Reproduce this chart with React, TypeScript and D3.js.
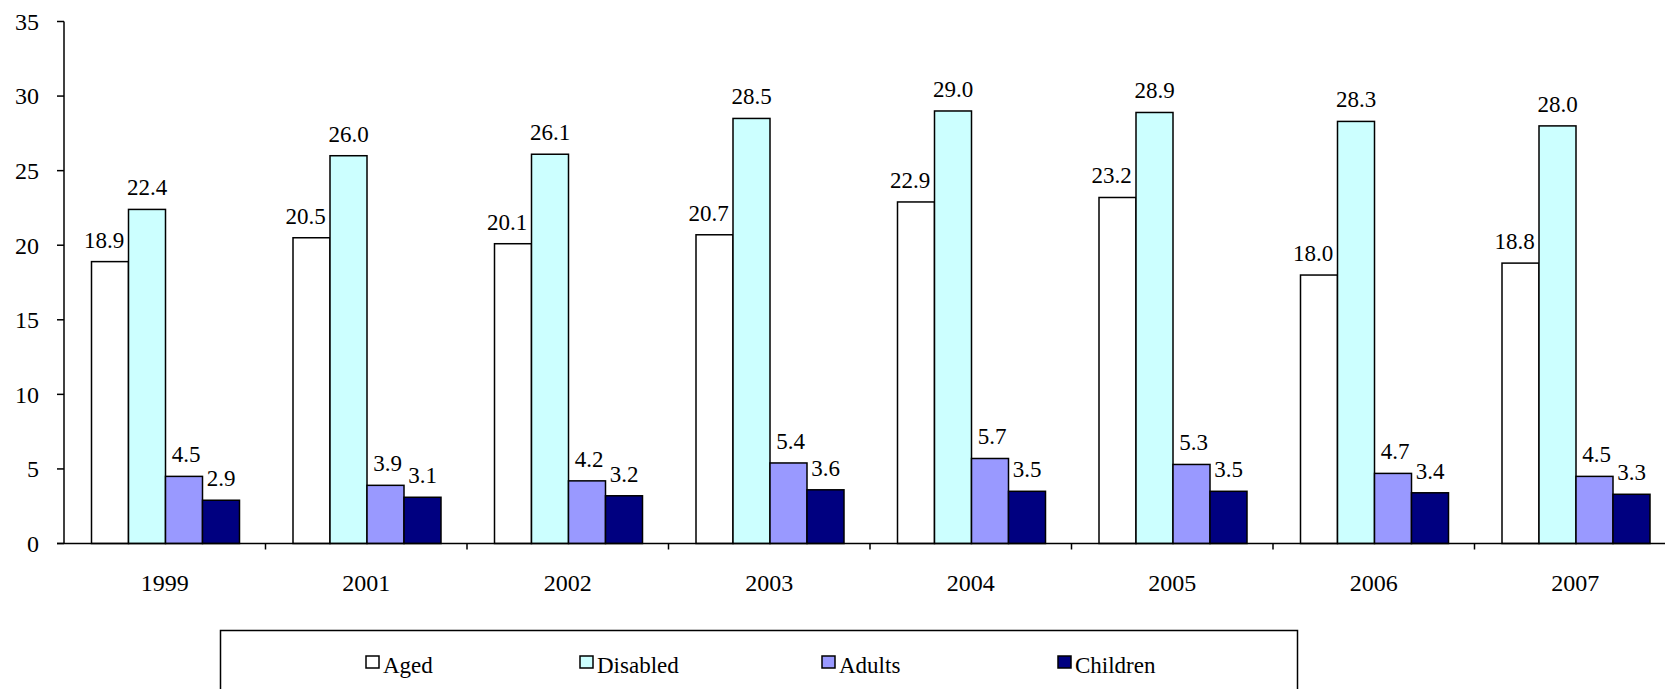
import React from "react";
import * as d3 from "d3";

const years = ["1999", "2001", "2002", "2003", "2004", "2005", "2006", "2007"];
const seriesNames = ["Aged", "Disabled", "Adults", "Children"];
const aged = [18.9, 20.5, 20.1, 20.7, 22.9, 23.2, 18.0, 18.8];
const disabled = [22.4, 26.0, 26.1, 28.5, 29.0, 28.9, 28.3, 28.0];
const adults = [4.5, 3.9, 4.2, 5.4, 5.7, 5.3, 4.7, 4.5];
const children = [2.9, 3.1, 3.2, 3.6, 3.5, 3.5, 3.4, 3.3];
const yTicks = [0, 5, 10, 15, 20, 25, 30, 35];

const seriesValues = [aged, disabled, adults, children];
const colors = ["#FFFFFF", "#CCFFFF", "#9999FF", "#000080"];
const labelDx = [-6, 0, 2, 0];
const legendX = [366, 580, 822, 1058];

const FONT = "Liberation Serif, Tinos, DejaVu Serif, serif";

export default function App() {
  const W = 1665;
  const H = 689;
  const axisX = 64;
  const baseY = 543.5;
  const topY = 21.5;
  const bandW = 201.5;

  const x = d3
    .scaleBand<string>()
    .domain(years)
    .range([axisX, axisX + bandW * years.length])
    .paddingInner(0)
    .paddingOuter(0);
  const inner = d3
    .scaleBand<string>()
    .domain(seriesNames)
    .range([27.5, bandW - 26])
    .padding(0);
  const y = d3.scaleLinear().domain([0, 35]).range([baseY, topY]);

  const txt = { fontFamily: FONT } as React.CSSProperties;

  return (
    <svg
      width={W}
      height={H}
      style={{ position: "absolute", left: 0, top: 0, background: "#fff", fontFamily: FONT }}
    >
      <rect x={0} y={0} width={W} height={H} fill="#fff" />
      {years.map((yr, gi) => (
        <g key={yr}>
          {seriesNames.map((s, si) => {
            const v = seriesValues[si][gi];
            const bx = (x(yr) as number) + (inner(s) as number);
            const bw = inner.bandwidth();
            return (
              <g key={s}>
                <rect
                  x={bx}
                  y={y(v)}
                  width={bw}
                  height={baseY - y(v)}
                  fill={colors[si]}
                  stroke="#000"
                  strokeWidth={1.5}
                />
                <text
                  x={bx + bw / 2 + labelDx[si]}
                  y={y(v) - 14}
                  textAnchor="middle"
                  fontSize={23}
                  fill="#000"
                  style={txt}
                >
                  {v.toFixed(1)}
                </text>
              </g>
            );
          })}
          <text
            x={(x(yr) as number) + bandW / 2}
            y={591}
            textAnchor="middle"
            fontSize={24}
            fill="#000"
            style={txt}
          >
            {yr}
          </text>
        </g>
      ))}
      <line x1={axisX} x2={axisX} y1={topY} y2={baseY} stroke="#000" strokeWidth={1.5} />
      {yTicks.map((t) => (
        <g key={t}>
          <line x1={axisX - 7} x2={axisX} y1={y(t)} y2={y(t)} stroke="#000" strokeWidth={1.5} />
          <text
            x={axisX - 25}
            y={y(t)}
            dy="0.35em"
            textAnchor="end"
            fontSize={24}
            fill="#000"
            style={txt}
          >
            {t}
          </text>
        </g>
      ))}
      <line
        x1={axisX - 7}
        x2={axisX + bandW * years.length}
        y1={baseY}
        y2={baseY}
        stroke="#000"
        strokeWidth={1.5}
      />
      {years.map((yr) => (
        <line
          key={"t" + yr}
          x1={(x(yr) as number) + bandW}
          x2={(x(yr) as number) + bandW}
          y1={baseY}
          y2={baseY + 6}
          stroke="#000"
          strokeWidth={1.5}
        />
      ))}
      <rect x={220.5} y={630.5} width={1077} height={80} fill="#fff" stroke="#000" strokeWidth={1.5} />
      {seriesNames.map((s, si) => (
        <g key={"lg" + s}>
          <rect
            x={legendX[si]}
            y={656}
            width={13}
            height={12}
            fill={colors[si]}
            stroke="#000"
            strokeWidth={1.5}
          />
          <text x={legendX[si] + 17} y={673} fontSize={23} fill="#000" style={txt}>
            {s}
          </text>
        </g>
      ))}
    </svg>
  );
}
